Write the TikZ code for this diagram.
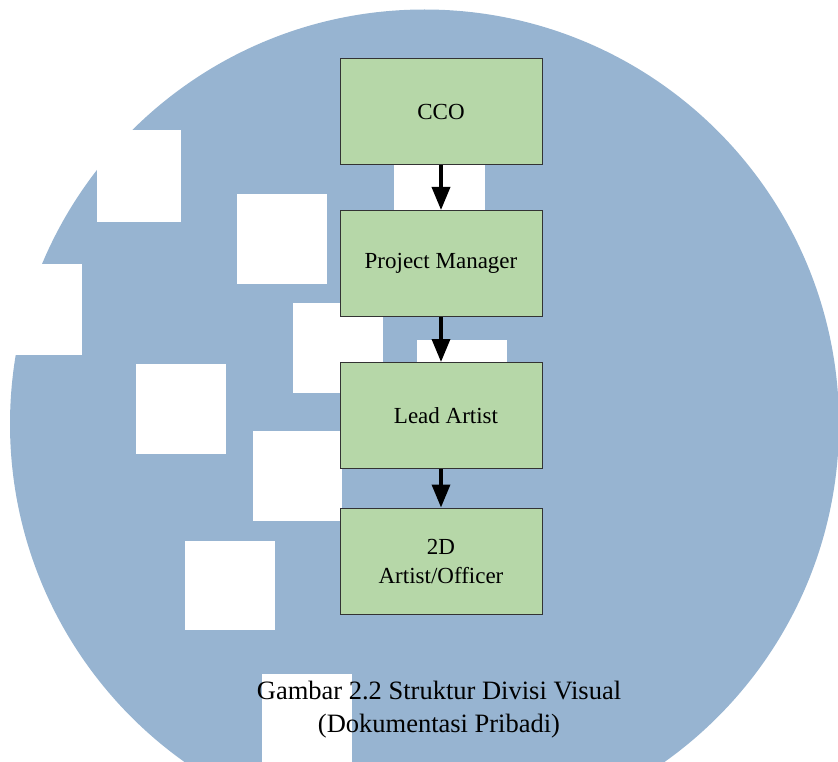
\documentclass[tikz,border=0pt]{standalone}
\usepackage{fontspec}
\setmainfont{Liberation Serif}
\usetikzlibrary{arrows.meta}

\definecolor{wmblue}{RGB}{151,180,209}
\definecolor{boxgreen}{RGB}{182,215,168}

\tikzset{
  divbox/.style={draw=black!80, line width=1pt, fill=boxgreen,
    minimum width=202pt, minimum height=106pt, inner sep=0pt,
    align=center, font=\fontsize{23}{29}\selectfont},
  divarrow/.style={line width=3.5pt, -{Triangle[width=18pt,length=23pt]}},
  wmsquare/.style={fill=white}
}

\begin{document}
\begin{tikzpicture}[x=1pt,y=-1pt]
\useasboundingbox (0,0) rectangle (838,762);
\clip (0,0) rectangle (838,762);

% watermark
\fill[wmblue] (424.5,424) circle (414.5pt);
\fill[wmsquare] (97,130) rectangle (181,222);
\fill[wmsquare] (237,194) rectangle (327,284);
\fill[wmsquare] (-8,264) rectangle (82,355);
\fill[wmsquare] (293,303) rectangle (383,393);
\fill[wmsquare] (136,364) rectangle (226,454);
\fill[wmsquare] (253,431) rectangle (342,521);
\fill[wmsquare] (185,541) rectangle (275,630);
\fill[wmsquare] (262,674) rectangle (352,770);
\fill[wmsquare] (394,120) rectangle (485,210);
\fill[wmsquare] (417,340) rectangle (507,430);

% struktur
\node[divbox] (cco) at (441,112) {CCO};
\node[divbox] (pm) at (441,263.5) {\raisebox{-3pt}{Project Manager}};
\node[divbox] (lead) at (441,415.5) {\hspace*{10pt}Lead Artist};
\node[divbox] (artist) at (441,561) {2D\\Artist/Officer};

\draw[divarrow] (cco) -- (pm);
\draw[divarrow] (pm) -- (lead);
\draw[divarrow] (lead) -- (artist);

\node[align=center, font=\fontsize{26.5}{33}\selectfont] (caption) at (439,710)
  {Gambar 2.2 Struktur Divisi Visual\\(Dokumentasi Pribadi)};
\end{tikzpicture}
\end{document}
